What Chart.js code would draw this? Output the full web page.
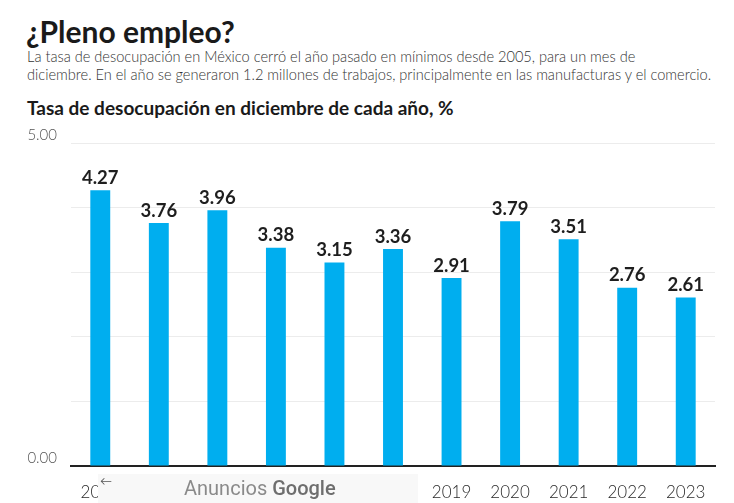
<!DOCTYPE html>
<html>
<head>
<meta charset="utf-8">
<script src="https://cdn.jsdelivr.net/npm/chart.js@4"></script>
<style>
  body { margin: 0; background: #fff; font-family: Lato, "Noto Sans", sans-serif; }
  #page { position: relative; width: 734px; height: 503px; overflow: hidden; }
  h1 { position: absolute; left: 26px; top: 13px; margin: 0; font-size: 30px; font-weight: 700; color: #1a1a1a; letter-spacing: 0px; }
  .sub { position: absolute; left: 27px; top: 48px; width: 720px; margin: 0; font-size: 14.6px; line-height: 18px; font-weight: 300; color: #333; }
  h2 { position: absolute; left: 27px; top: 96px; margin: 0; font-size: 19px; font-weight: 700; color: #1a1a1a; }
  #wrap { position: absolute; left: 0; top: 120px; width: 734px; height: 383px; }
  #ad { position: absolute; left: 98px; top: 474px; width: 320px; height: 29px; background: #f8f8f8; }
  #ad .arrow { position: absolute; left: 2px; top: -1px; font-size: 12px; color: #555; }
  #ad .txt { position: absolute; left: 86px; top: 2px; font-size: 20px; font-family: Roboto, sans-serif; color: #8a8a8a; }
  #ad .txt b { color: #6e6e6e; font-weight: 500; }
</style>
</head>
<body>
<div id="page">
  <h1>¿Pleno empleo?</h1>
  <p class="sub">La tasa de desocupación en México cerró el año pasado en mínimos desde 2005, para un mes de<br>diciembre. En el año se generaron 1.2 millones de trabajos, principalmente en las manufacturas y el comercio.</p>
  <h2>Tasa de desocupación en diciembre de cada año, %</h2>
  <div id="wrap"><canvas id="rateChart"></canvas></div>
  <div id="ad"><span class="arrow">←</span><span class="txt">Anuncios <b>Google</b></span></div>
</div>
<script>
const years = ['2013', '2014', '2015', '2016', '2017', '2018', '2019', '2020', '2021', '2022', '2023'];
const rates = [4.27, 3.76, 3.96, 3.38, 3.15, 3.36, 2.91, 3.79, 3.51, 2.76, 2.61];
const shownTicks = [0, 5];

const valueLabels = {
    id: 'valueLabels',
    afterDatasetsDraw(chart) {
        const ctx = chart.ctx;
        const meta = chart.getDatasetMeta(0);
        ctx.save();
        ctx.font = '700 18.5px Lato, "Noto Sans", sans-serif';
        ctx.fillStyle = '#1e1e1e';
        ctx.textAlign = 'center';
        ctx.textBaseline = 'bottom';
        meta.data.forEach((bar, i) => {
            ctx.fillText(rates[i].toFixed(2), bar.x, bar.y - 3);
        });
        ctx.restore();
    },
};

new Chart(document.getElementById('rateChart'), {
    type: 'bar',
    data: {
        labels: years,
        datasets: [
            {
                data: rates,
                backgroundColor: '#00aeef',
                barPercentage: 0.34,
                categoryPercentage: 1,
            },
        ],
    },
    options: {
        responsive: true,
        maintainAspectRatio: false,
        animation: false,
        layout: { padding: { top: 2, right: 19, left: 0, bottom: 0 } },
        plugins: {
            legend: { display: false },
            tooltip: { enabled: false },
        },
        scales: {
            x: {
                grid: { display: false },
                border: { display: true, color: '#222', width: 2 },
                ticks: {
                    color: '#2a2a2a',
                    font: { family: 'Lato, "Noto Sans", sans-serif', size: 17, weight: '300' },
                    padding: 8,
                    maxRotation: 0,
                    autoSkip: false,
                },
                afterFit(scale) { scale.height = 37; },
            },
            y: {
                min: 0,
                max: 5,
                border: { display: false },
                grid: { color: '#ececec', drawTicks: false },
                ticks: {
                    stepSize: 1,
                    padding: 14,
                    labelOffset: -8,
                    color: '#555',
                    font: { family: 'Lato, "Noto Sans", sans-serif', size: 15, weight: '300' },
                    callback: (v) => (shownTicks.includes(v) ? v.toFixed(2) : ''),
                },
                afterFit(scale) { scale.width = 71; },
            },
        },
    },
    plugins: [valueLabels],
});
</script>
</body>
</html>
